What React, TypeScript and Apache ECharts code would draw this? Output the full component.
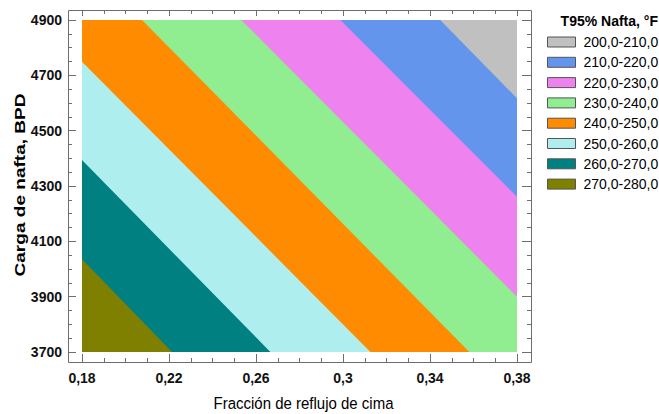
import React, { useEffect, useRef } from "react";
import * as echarts from "echarts";

// ---- data ----
const bandLabels = [
  "200,0-210,0",
  "210,0-220,0",
  "220,0-230,0",
  "230,0-240,0",
  "240,0-250,0",
  "250,0-260,0",
  "260,0-270,0",
  "270,0-280,0",
];
const bandColors = [
  "#c0c0c0",
  "#6495ed",
  "#ee82ee",
  "#90ee90",
  "#ff8c00",
  "#afeeee",
  "#008080",
  "#808000",
];
// contour lines (boundaries between bands), each given by the two points
// where it crosses the edges of the plotted region
const contourLevels = [210, 220, 230, 240, 250, 260, 270];
const lineStartX = [0.3447, 0.2988, 0.2532, 0.2076, 0.18, 0.18, 0.18];
const lineStartY = [4900, 4900, 4900, 4900, 4749, 4394, 4035];
const lineEndX = [0.38, 0.38, 0.38, 0.3581, 0.3126, 0.2666, 0.2214];
const lineEndY = [4617, 4261, 3900, 3700, 3700, 3700, 3700];

const xMin = 0.18;
const xMax = 0.38;
const xStep = 0.04;
const yMin = 3700;
const yMax = 4900;
const yStep = 200;

const legendTitle = "T95% Nafta, °F";
const xTitle = "Fracción de reflujo de cima";
const yTitle = "Carga de nafta, BPD";

type Pt = [number, number];

// keep the part of a polygon lying on the "higher value" side of a contour line
function clipBelow(poly: Pt[], p1: Pt, p2: Pt): Pt[] {
  const dx = p2[0] - p1[0];
  const dy = p2[1] - p1[1];
  const side = (q: Pt) => dx * (q[1] - p1[1]) - dy * (q[0] - p1[0]);
  const out: Pt[] = [];
  for (let i = 0; i < poly.length; i++) {
    const a = poly[i];
    const b = poly[(i + 1) % poly.length];
    const sa = side(a);
    const sb = side(b);
    if (sa <= 0) out.push(a);
    if ((sa < 0 && sb > 0) || (sa > 0 && sb < 0)) {
      const t = sa / (sa - sb);
      out.push([a[0] + t * (b[0] - a[0]), a[1] + t * (b[1] - a[1])]);
    }
  }
  return out;
}

function buildBands(): Pt[][] {
  const rect: Pt[] = [
    [xMin, yMin],
    [xMax, yMin],
    [xMax, yMax],
    [xMin, yMax],
  ];
  const polys: Pt[][] = [rect];
  for (let i = 0; i < contourLevels.length; i++) {
    polys.push(
      clipBelow(rect, [lineStartX[i], lineStartY[i]], [lineEndX[i], lineEndY[i]])
    );
  }
  return polys;
}

const SANS = "'Liberation Sans', Arial, sans-serif";
const FRAME = "#6e6e6e";

export default function App() {
  const ref = useRef<HTMLDivElement>(null);

  useEffect(() => {
    document.body.style.margin = "0";
    if (!ref.current) return;
    const chart = echarts.init(ref.current, undefined, { renderer: "svg" });

    const gridLeft = 82;
    const gridTop = 20;
    const gridW = 435;
    const gridH = 332;
    const offX = 14;
    const offY = 10;

    const polys = buildBands();

    const series = polys.map((poly, k) => ({
      type: "custom",
      name: bandLabels[k],
      coordinateSystem: "cartesian2d",
      itemStyle: { color: bandColors[k] },
      data: poly,
      encode: { x: 0, y: 1 },
      silent: true,
      clip: true,
      z: 1 + k,
      renderItem: (params: any, api: any) => {
        if (params.dataIndexInside !== 0) return null;
        const pts = poly.map((p) => api.coord(p));
        return {
          type: "polygon",
          shape: { points: pts },
          style: { fill: bandColors[k], stroke: null },
        };
      },
    }));

    const tickCommon = {
      axisLine: { show: false },
      axisTick: { show: true, inside: true, length: 8, lineStyle: { color: FRAME } },
      minorTick: { show: true, splitNumber: 4, length: 4, lineStyle: { color: FRAME } },
      splitLine: { show: false },
      minorSplitLine: { show: false },
    };

    const xFmt = (v: number) => String(+v.toFixed(2)).replace(".", ",");
    const yFmt = (v: number) => String(Math.round(v));

    const labelStyle = {
      fontFamily: SANS,
      fontSize: 14,
      fontWeight: "bold",
      color: "#111",
    };

    chart.setOption({
      animation: false,
      title: {
        text: legendTitle,
        right: 1,
        top: 14,
        padding: 0,
        textStyle: { fontFamily: SANS, fontSize: 14, fontWeight: "bold", color: "#000" },
      },
      legend: {
        orient: "vertical",
        left: 547,
        top: 35,
        padding: 0,
        itemWidth: 28,
        itemHeight: 10,
        itemGap: 6.3,
        icon: "rect",
        selectedMode: false,
        data: bandLabels,
        itemStyle: { borderColor: "#555", borderWidth: 1 },
        textStyle: {
          fontFamily: SANS,
          fontSize: 14,
          lineHeight: 14,
          color: "#000",
          padding: [0, 0, 0, 3],
        },
      },
      grid: { left: gridLeft, top: gridTop, width: gridW, height: gridH, containLabel: false },
      xAxis: [
        {
          type: "value",
          position: "bottom",
          min: xMin,
          max: xMax,
          interval: xStep,
          offset: offY,
          ...tickCommon,
          axisLabel: { margin: 9, formatter: xFmt, ...labelStyle },
        },
        {
          type: "value",
          position: "top",
          min: xMin,
          max: xMax,
          interval: xStep,
          offset: offY,
          ...tickCommon,
          axisTick: { show: true, inside: true, length: 6, lineStyle: { color: FRAME } },
          axisLabel: { show: false },
        },
      ],
      yAxis: [
        {
          type: "value",
          position: "left",
          min: yMin,
          max: yMax,
          interval: yStep,
          offset: offX,
          ...tickCommon,
          axisLabel: { margin: 6, formatter: yFmt, ...labelStyle },
        },
        {
          type: "value",
          position: "right",
          min: yMin,
          max: yMax,
          interval: yStep,
          offset: offX,
          ...tickCommon,
          axisTick: { show: true, inside: true, length: 9, lineStyle: { color: FRAME } },
          axisLabel: { show: false },
        },
      ],
      graphic: [
        {
          type: "rect",
          silent: true,
          z: 100,
          shape: {
            x: gridLeft - offX + 0.5,
            y: gridTop - offY + 0.5,
            width: gridW + 2 * offX,
            height: gridH + 2 * offY,
          },
          style: { fill: "none", stroke: FRAME, lineWidth: 1 },
        },
        {
          type: "text",
          silent: true,
          x: 20,
          y: gridTop + gridH / 2 - 1,
          rotation: Math.PI / 2,
          scaleX: 1.36,
          style: {
            text: yTitle,
            font: `bold 14px ${SANS}`,
            fill: "#000",
            textAlign: "center",
            textVerticalAlign: "middle",
          },
        },
        {
          type: "text",
          silent: true,
          x: gridLeft + gridW / 2 + 4,
          y: 403,
          scaleY: 1.15,
          style: {
            text: xTitle,
            font: `15px ${SANS}`,
            fill: "#000",
            textAlign: "center",
            textVerticalAlign: "middle",
          },
        },
      ],
      series,
    } as any);

    return () => chart.dispose();
  }, []);

  return <div ref={ref} style={{ width: 659, height: 414 }} />;
}
